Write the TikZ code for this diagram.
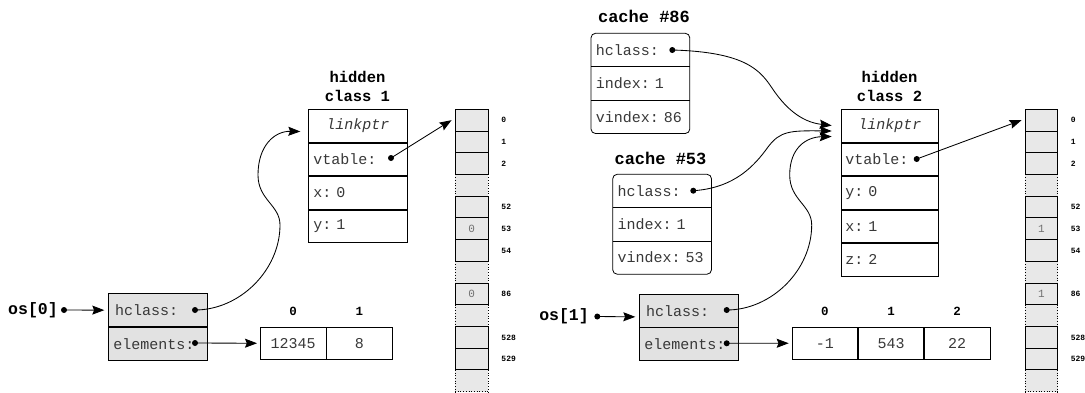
\documentclass[tikz,border=0pt]{standalone}
\usepackage{fontspec}
\setmonofont{Liberation Mono}
\usetikzlibrary{arrows.meta,calc}

\definecolor{objfill}{HTML}{E2E2E2}
\definecolor{vtfill}{HTML}{E8E8E8}
\definecolor{fieldtxt}{HTML}{383838}
\definecolor{valtxt}{HTML}{707070}

\newcommand\fieldfont{\fontsize{15}{15}\selectfont\ttfamily}
\newcommand\headfont{\fontsize{15.5}{19.3}\selectfont\ttfamily\bfseries}
\newcommand\cachefont{\fontsize{17}{17}\selectfont\ttfamily\bfseries}
\newcommand\varfont{\fontsize{16.5}{16.5}\selectfont\ttfamily\bfseries}
\newcommand\idxfont{\fontsize{12.5}{12.5}\selectfont\ttfamily\bfseries}
\newcommand\slotfont{\fontsize{8}{8}\selectfont\ttfamily\bfseries}

\begin{document}
\begin{tikzpicture}[x=1pt,y=-1pt,
  field/.style={draw, line width=0.8pt, minimum width=98.4pt, minimum height=32.6pt,
    inner sep=0pt, text width=89pt, align=left, anchor=north west,
    font=\fieldfont, text=fieldtxt},
  linkfield/.style={field, align=center, font=\fieldfont\itshape},
  objfield/.style={field, fill=objfill},
  cachefield/.style={field, draw=none},
  cell/.style={draw, line width=0.8pt, minimum width=65.4pt, minimum height=32.3pt,
    inner sep=0pt, anchor=north west, font=\fieldfont, text=fieldtxt},
  vcell/.style={draw, line width=0.9pt, fill=vtfill, minimum height=21.72pt, inner sep=0pt},
  vlab/.style={anchor=west, inner sep=0pt, font=\slotfont},
  vval/.style={inner sep=0pt, font=\fontsize{11}{11}\selectfont\ttfamily, text=valtxt},
  idx/.style={inner sep=0pt, font=\idxfont},
  head/.style={align=center, inner sep=0pt, font=\headfont},
  cachehead/.style={inner sep=0pt, font=\cachefont},
  var/.style={inner sep=0pt, font=\varfont},
  dot/.style={circle, fill=black, inner sep=0pt, minimum size=6pt},
  conn/.style={line width=0.85pt, -{Stealth[length=12pt,width=9pt,inset=1.8pt]}},
  curve/.style={line width=0.85pt, -{Stealth[length=12pt,width=9pt,inset=1.8pt]}}
]
\useasboundingbox (0,0) rectangle (1085,392);

% ---------------- vtables ----------------
\foreach \col/\cx/\w/\val in {va/471.65/33.3/0, vb/1041.35/32.7/1} {
  % elided stretches of the table
  \foreach \i in {3,7,9,12} {
    \fill[vtfill] ({\cx-\w/2},{109.3+21.72*\i}) rectangle ({\cx+\w/2},{109.3+21.72*(\i+1)});
    \draw[dotted, line width=0.7pt]
      ({\cx-\w/2},{109.3+21.72*\i}) -- ({\cx-\w/2},{109.3+21.72*(\i+1)})
      ({\cx+\w/2},{109.3+21.72*\i}) -- ({\cx+\w/2},{109.3+21.72*(\i+1)});
  }
  \draw[dotted, line width=0.7pt] ({\cx-\w/2},391.5) -- ({\cx+\w/2},391.5);
  % numbered slots
  \foreach \i/\lab in {0/0,1/1,2/2,4/52,5/53,6/54,8/86,10/528,11/529} {
    \node[vcell, minimum width=\w pt] (\col-\lab) at (\cx,{109.3+21.72*\i+10.86}) {};
    \node[vlab] (\col-\lab-n) at ($(\col-\lab.east)+(12.5,0)$) {\lab};
  }
  \node[vval] (\col-53-v) at (\col-53) {\val};
  \node[vval] (\col-86-v) at (\col-86) {\val};
}

% ---------------- hidden class 1 ----------------
\node[head] (hc1-title) at (357.5,86.5) {hidden\\class 1};
\node[linkfield] (hc1-link) at (308.3,109.3) {linkptr};
\node[field] (hc1-vt) at (hc1-link.south west) {vtable:};
\node[field] (hc1-x)  at (hc1-vt.south west) {x:~0};
\node[field] (hc1-y)  at (hc1-x.south west) {y:~1};

% ---------------- hidden class 2 ----------------
\node[head] (hc2-title) at (889.5,86.5) {hidden\\class 2};
\node[linkfield, minimum width=97.6pt] (hc2-link) at (840.7,109.3) {linkptr};
\node[field, minimum width=97.6pt] (hc2-vt) at (hc2-link.south west) {vtable:};
\node[field, minimum width=97.6pt] (hc2-y)  at (hc2-vt.south west) {y:~0};
\node[field, minimum width=97.6pt] (hc2-x)  at (hc2-y.south west) {x:~1};
\node[field, minimum width=97.6pt] (hc2-z)  at (hc2-x.south west) {z:~2};

% ---------------- inline caches ----------------
\node[cachehead] (c86-title) at (644,16.7) {cache \#86};
\node[cachefield, minimum width=98pt] (c86-h) at (591,33.3) {hclass:};
\node[cachefield, minimum width=98pt] (c86-i) at (c86-h.south west) {index:~1};
\node[cachefield, minimum width=98pt] (c86-v) at (c86-i.south west) {vindex:~86};
\draw[line width=0.8pt, rounded corners=4.5pt] (c86-h.north west) rectangle (c86-v.south east);
\draw[line width=0.8pt] (c86-h.south west) -- (c86-h.south east)
                        (c86-i.south west) -- (c86-i.south east);

\node[cachehead] (c53-title) at (660.5,158.3) {cache \#53};
\node[cachefield, minimum width=98pt, minimum height=32.5pt] (c53-h) at (612.7,174.3) {hclass:};
\node[cachefield, minimum width=98pt, minimum height=32.5pt] (c53-i) at (c53-h.south west) {index:~1};
\node[cachefield, minimum width=98pt, minimum height=32.5pt] (c53-v) at (c53-i.south west) {vindex:~53};
\draw[line width=0.8pt, rounded corners=4.5pt] (c53-h.north west) rectangle (c53-v.south east);
\draw[line width=0.8pt] (c53-h.south west) -- (c53-h.south east)
                        (c53-i.south west) -- (c53-i.south east);

% ---------------- objects ----------------
\node[var] (os0) at (33,310) {os[0]};
\node[objfield, minimum height=32.9pt] (os0-h) at (108.3,293.3) {\hspace{1.8pt}hclass:};
\node[objfield, minimum height=32.9pt] (os0-e) at (os0-h.south west) {elements:};

\node[var] (os1) at (564,316.5) {os[1]};
\node[objfield, minimum height=32.5pt] (os1-h) at (639.3,294) {\hspace{1.8pt}hclass:};
\node[objfield, minimum height=32.5pt] (os1-e) at (os1-h.south west) {elements:};

% ---------------- element arrays ----------------
\node[cell, minimum width=65.5pt] (a0-0) at (260,326.7) {12345};
\node[cell, minimum width=65.5pt] (a0-1) at (a0-0.north east) {8};
\foreach \k in {0,1} \node[idx] (a0-\k-n) at ($(a0-\k.north)+(0,-15)$) {\k};

\node[cell] (a1-0) at (791.7,326.7) {-1};
\node[cell] (a1-1) at (a1-0.north east) {543};
\node[cell] (a1-2) at (a1-1.north east) {22};
\foreach \k in {0,1,2} \node[idx] (a1-\k-n) at ($(a1-\k.north)+(0,-15)$) {\k};

% ---------------- pointer origins ----------------
\coordinate (p-os0)  at (64,310);
\coordinate (p-os1)  at (597.3,316.5);
\coordinate (p-os0h) at (195,310);
\coordinate (p-os0e) at (195,343);
\coordinate (p-os1h) at (726.7,310);
\coordinate (p-os1e) at (726.7,343.3);
\coordinate (p-hc1)  at (391,158);
\coordinate (p-hc2)  at (916.7,159);
\coordinate (p-c86)  at (672.3,50);
\coordinate (p-c53)  at (693.3,190.7);

% arrow ends
\coordinate (in-hc1)  at ($(hc1-link.west)+(-8,5.5)$);
\coordinate (in-hc2a) at ($(hc2-link.west)+(-9,-0.5)$);
\coordinate (in-hc2b) at ($(hc2-link.west)+(-9,5)$);
\coordinate (in-hc2c) at ($(hc2-link.west)+(-9,10.5)$);

% ---------------- connectors ----------------
\draw[conn] (p-os0) -- ($(os0-h.west)+(-4,0)$);
\draw[conn] (p-os1) -- ($(os1-h.west)+(-4,6.2)$);
\draw[conn] (p-os0e) -- ($(a0-0.west)+(-3,0)$);
\draw[conn] (p-os1e) -- ($(a1-0.west)+(-3,0)$);
\draw[conn] (p-hc1) -- ($(va-0.west)+(-3,0)$);
\draw[conn] (p-hc2) -- ($(vb-0.west)+(-3,0)$);

\draw[curve] (p-os0h) .. controls (240,310) and (280,270) .. (280,225)
  .. controls (280,205) and (258,200) .. (258,175)
  .. controls (258,145) and (275,131) .. (in-hc1);
\draw[curve] (p-os1h) .. controls (771.7,310) and (811.7,270) .. (811.7,225)
  .. controls (811.7,205) and (789.7,200) .. (789.7,175)
  .. controls (789.7,148) and (806,137) .. (in-hc2c);
\draw[curve] (p-c86) .. controls (745,52) and (760,70) .. (772,88)
  .. controls (784,106) and (800,122) .. (in-hc2a);
\draw[curve] (p-c53) .. controls (735,188) and (755,165) .. (768,147)
  .. controls (780,131) and (790,130.5) .. (in-hc2b);

% ---------------- dots ----------------
\foreach \p in {p-os0,p-os1,p-os0h,p-os0e,p-os1h,p-os1e,p-hc1,p-hc2,p-c86,p-c53}
  \node[dot] (\p-dot) at (\p) {};
\end{tikzpicture}
\end{document}
